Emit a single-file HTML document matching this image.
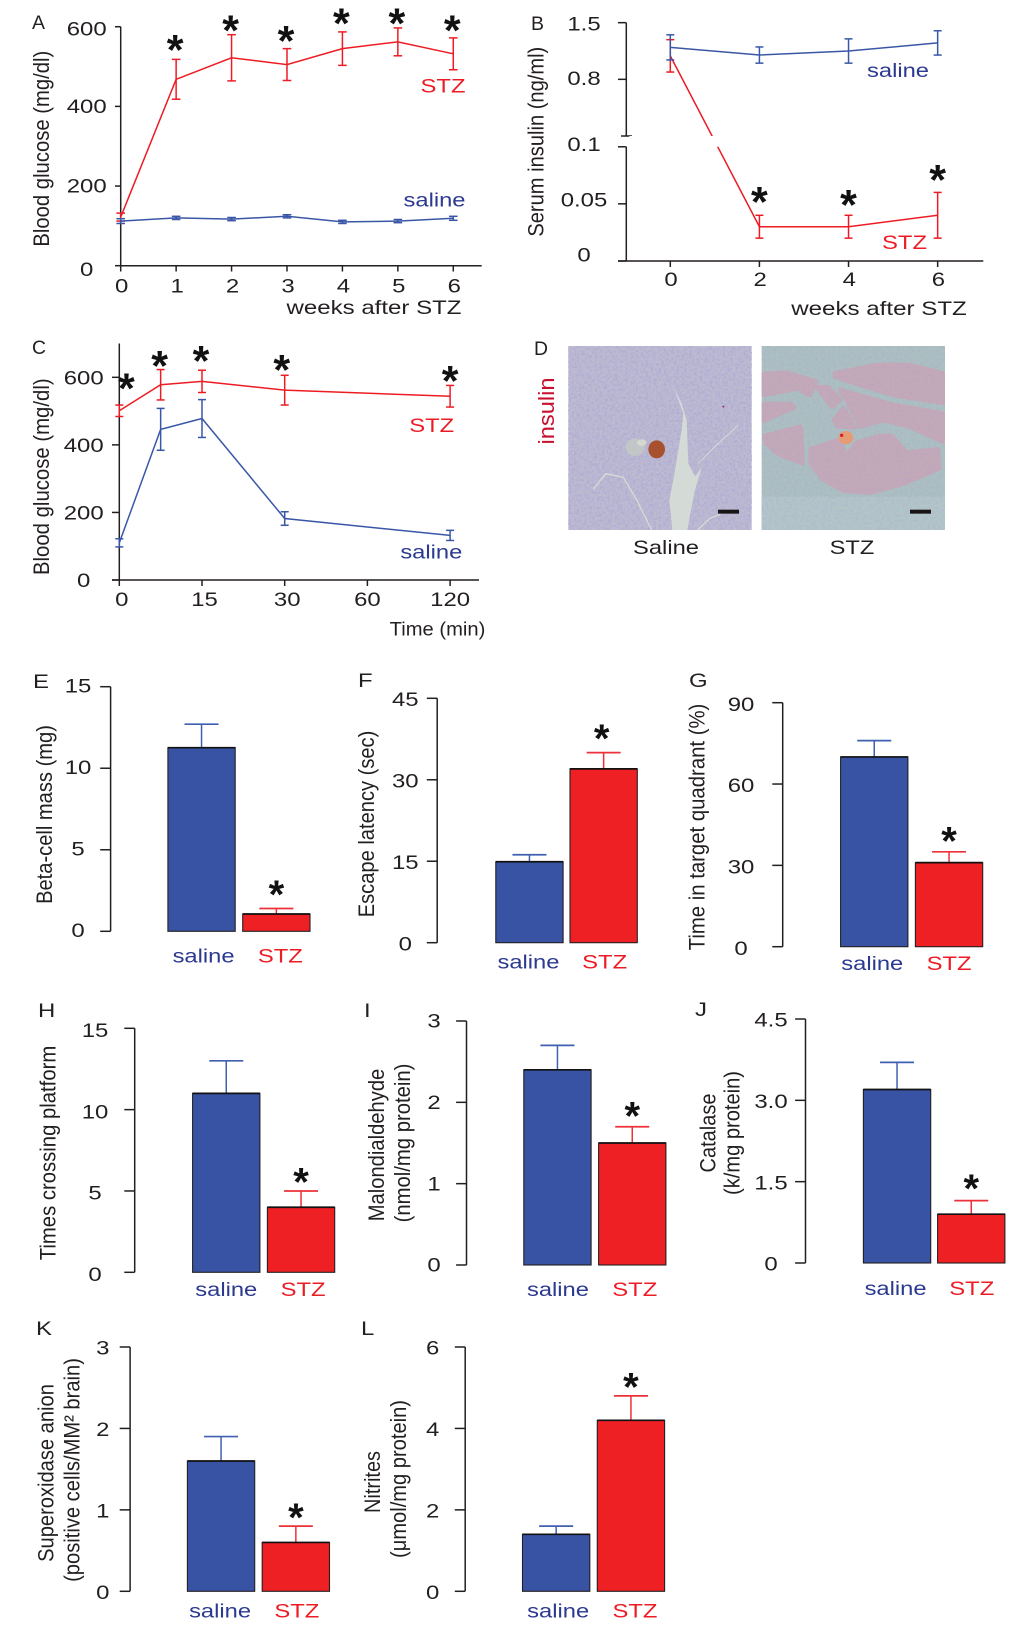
<!DOCTYPE html>
<html><head><meta charset="utf-8"><title>Figure</title>
<style>html,body{margin:0;padding:0;background:#fff}svg{display:block}text{font-family:"Liberation Sans",sans-serif}</style>
</head><body>
<svg id="fig" xmlns="http://www.w3.org/2000/svg" width="1020" height="1646" viewBox="0 0 1020 1646">
<defs>
<filter id="grain" x="0" y="0" width="100%" height="100%"><feTurbulence type="fractalNoise" baseFrequency="0.13" numOctaves="2" seed="4"/><feColorMatrix values="0 0 0 0 0.40  0 0 0 0 0.36  0 0 0 0 0.66  2.6 0 0 0 -1.0"/></filter>
</defs>
<rect width="1020" height="1646" fill="#fff"/>
<g transform="translate(510,330) scale(0.33333)">
<g>
<rect x="175" y="48" width="550" height="552" fill="#bcbbd1"/>
<rect x="175" y="48" width="550" height="552" filter="url(#grain)" opacity=".6"/>
<polygon fill="#d4dbd6" points="470,130 515,220 530,270 535,400 555,440 575,412 555,480 545,530 532,600 487,600 478,510 490,450 515,300 520,250 490,170"/>
<polyline fill="none" stroke="#d4dbd6" stroke-width="4" points="250,478 287,431 340,442 380,510 425,600"/>
<polyline fill="none" stroke="#d4dbd6" stroke-width="3" points="565,400 620,345 685,285"/>
<polyline fill="none" stroke="#d4dbd6" stroke-width="4" points="562,600 600,565 640,548"/>
<ellipse cx="375" cy="352" rx="28" ry="26" fill="#c3c6c6"/>
<ellipse cx="395" cy="338" rx="14" ry="10" fill="#d6d7ce"/>
<ellipse cx="440" cy="358" rx="25" ry="27" fill="#a8512f"/>
<circle cx="640" cy="230" r="3" fill="#a03060"/>
<rect x="624" y="539" width="63" height="12" fill="#1a1515"/>
</g>
<g>
<rect x="755" y="48" width="550" height="552" fill="#abc0c0"/>
<rect x="755" y="500" width="550" height="100" fill="#b2c6c8"/>
<g fill="#c4a9b6" stroke="#c4a9b6" stroke-width="14" stroke-linejoin="round">
<polygon points="975,130 1100,105 1200,105 1298,130 1298,218 1150,195 1020,155 975,140"/>
<polygon points="990,180 1150,225 1298,250 1298,335 1200,290 1120,270 1050,290 1010,210"/>
<polygon points="762,132 830,128 918,155 900,195 860,175 762,195"/>
<polygon points="922,172 955,172 990,210 965,230"/>
<polygon points="762,222 842,222 852,232 762,272"/>
<polygon points="1000,235 1022,270 1032,292 982,288 972,270"/>
<polygon points="764,318 872,290 878,400 805,372 768,340"/>
<polygon points="902,358 985,330 1010,378 1040,338 1110,318 1145,318 1190,368 1283,358 1288,415 1200,452 1175,462 1080,488 1000,482 935,445 902,398"/>
</g>
<rect x="755" y="48" width="550" height="552" filter="url(#grain)" opacity=".3"/>
<ellipse cx="1008" cy="323" rx="22" ry="20" fill="#e59b74"/>
<circle cx="995" cy="316" r="5" fill="#d81e2a"/>
<rect x="1200" y="539" width="63" height="12" fill="#1a1515"/>
</g>
</g>
</svg>
<script>
// ---- Panel A data
const aWeeks = [0, 1, 2, 3, 4, 5, 6];
const aStz = [122, 468, 522, 505, 545, 562, 532];
const aStzErr = [10, 50, 58, 40, 42, 35, 40];
const aSaline = [112, 120, 117, 124, 110, 112, 119];
const aSalineErr = [6, 4, 4, 4, 4, 4, 5];
const aYTicks = [0, 200, 400, 600];
// ---- Panel B data
const bWeeks = [0, 2, 4, 6];
const bSaline = [1.195, 1.10, 1.15, 1.25];
const bSalineErr = [0.155, 0.10, 0.15, 0.15];
const bStz = [1.09, 0.03, 0.03, 0.04];
const bStzErr = [0.20, 0.01, 0.01, 0.02];
const bYTicks = [0, 0.05, 0.1, 0.8, 1.5];
const bYTickLabels = ['0', '0.05', '0.1', '0.8', '1.5'];
// ---- Panel C data
const cMinutes = [0, 7.5, 15, 30, 120];
const cXTicks = [0, 15, 30, 60, 120];
const cStz = [501, 578, 588, 562, 544];
const cStzErr = [17, 45, 33, 44, 32];
const cSaline = [110, 446, 478, 182, 132];
const cSalineErr = [12, 62, 56, 20, 15];
const cYTicks = [0, 200, 400, 600];
// ---- Bar panel data
const barCategories = ['saline', 'STZ'];
const eMeans = [11.26, 1.06]; const eErrs = [1.44, 0.34]; const eTicks = [0, 5, 10, 15];
const fMeans = [14.9, 32]; const fErrs = [1.3, 3]; const fTicks = [0, 15, 30, 45];
const gMeans = [70, 31]; const gErrs = [6, 4]; const gTicks = [0, 30, 60, 90];
const hMeans = [11, 4]; const hErrs = [2, 1]; const hTicks = [0, 5, 10, 15];
const iMeans = [2.4, 1.5]; const iErrs = [0.3, 0.2]; const iTicks = [0, 1, 2, 3];
const jMeans = [3.2, 0.9]; const jErrs = [0.5, 0.25]; const jTicks = [0, 1.5, 3.0, 4.5];
const jTickLabels = ['0', '1.5', '3.0', '4.5'];
const kMeans = [1.6, 0.6]; const kErrs = [0.3, 0.2]; const kTicks = [0, 1, 2, 3];
const lMeans = [1.4, 4.2]; const lErrs = [0.2, 0.6]; const lTicks = [0, 2, 4, 6];

const NS = 'http://www.w3.org/2000/svg';
const fig = document.getElementById('fig');
const INK = '#231f20', RED = '#ed1c24', NAVY = '#2b3990', BLUE = '#3a57a7';

function mk(tag, name, attrs) {
  const el = document.createElementNS(NS, tag);
  
  
  for (const k in attrs) el.setAttribute(k, attrs[k]);
  fig.appendChild(el);
  return el;
}
function ln(name, x1, y1, x2, y2, color, w) {
  return mk('line', name, {x1, y1, x2, y2, stroke: color || INK, 'stroke-width': w || 1.5});
}
// horizontal text; target width optional, otherwise 1.26 stretch
function tx(name, str, x, y, color, anchor, width, size) {
  const el = mk('text', name, {'font-size': size || 19, fill: color || INK, 'text-anchor': anchor || 'middle'});
  el.textContent = str;
  const k = width ? width / el.getComputedTextLength() : 1.26;
  el.setAttribute('transform', 'translate(' + x + ',' + y + ') scale(' + k + ',1)');
  return el;
}
// rotated title with baseline at x, centre at y, target length
function rt(name, str, x, y, len, color, size) {
  const el = mk('text', name, {'font-size': size || 18, fill: color || INK, 'text-anchor': 'middle'});
  el.textContent = str;
  const k = len / el.getComputedTextLength();
  el.setAttribute('transform', 'translate(' + x + ',' + y + ') rotate(-90) scale(' + k + ',1.22)');
  return el;
}
function star(name, cx, cy, size) {
  const s = size || 43;
  const el = mk('text', name, {'font-size': s, 'font-weight': 'bold', fill: '#111', 'text-anchor': 'middle'});
  el.textContent = '*';
  el.setAttribute('transform', 'translate(' + cx + ',' + (cy + s * 0.49) + ')');
  return el;
}
function series(prefix, xs, ys, errs, xf, yf, color, capHalf) {
  const pts = xs.map((x, i) => xf(x).toFixed(2) + ',' + yf(ys[i]).toFixed(2)).join(' ');
  mk('polyline', prefix + '-line', {points: pts, fill: 'none', stroke: color, 'stroke-width': 1.5});
  xs.forEach((x, i) => {
    const px = xf(x), hi = yf(ys[i] + errs[i]), lo = yf(ys[i] - errs[i]);
    ln(prefix + '-error-bar', px, hi, px, lo, color, 1.5);
    ln(prefix + '-error-cap-top', px - capHalf, hi, px + capHalf, hi, color, 1.5);
    ln(prefix + '-error-cap-bottom', px - capHalf, lo, px + capHalf, lo, color, 1.5);
  });
}

// ---------- Panel A
(function () {
  const x = w => 120.7 + w * 55.43, y = v => 265.7 - v * 0.3983;
  tx('panel-a-letter', 'A', 32, 29, INK, 'start', 13);
  ln('panel-a-y-axis', x(0), y(600), x(0), y(0));
  ln('panel-a-x-axis', x(0), y(0), 481.7, y(0));
  const yNudge = {0: 3.7, 200: 0, 400: 0, 600: 2};
  aYTicks.forEach(v => {
    ln('panel-a-y-tick', 115, y(v), x(0), y(v));
    tx('panel-a-y-tick-label', String(v), 86.7, y(v) + 6.7 + yNudge[v], INK, 'middle');
  });
  aWeeks.forEach(w => {
    ln('panel-a-x-tick', x(w), y(0), x(w), 271.5);
    tx('panel-a-x-tick-label', String(w), x(w) + 1, 292.7, INK, 'middle');
  });
  series('panel-a-stz', aWeeks, aStz, aStzErr, x, y, RED, 4.3);
  series('panel-a-saline', aWeeks, aSaline, aSalineErr, x, y, BLUE, 4.3);
  const gaps = [0, 16, 11, 14, 15, 11, 14];
  aWeeks.slice(1).forEach((w, i) => star('panel-a-significance-star', x(w) - 1, y(aStz[i + 1] + aStzErr[i + 1]) - gaps[i + 1]));
  rt('panel-a-y-title', 'Blood glucose (mg/dl)', 49, 148.7, 196);
  tx('panel-a-x-title', 'weeks after STZ', 374, 314, INK, 'middle', 175);
  tx('panel-a-stz-label', 'STZ', 443, 92.7, RED, 'middle', 45);
  tx('panel-a-saline-label', 'saline', 434.5, 206.7, NAVY, 'middle', 62);
})();

// ---------- Panel B (broken axis)
(function () {
  const x = w => 670.3 + w * 44.56;
  const y = v => v >= 0.1 ? 22.67 + (1.5 - v) * 80.95 : 261 - v * 1143.3;
  const axX = 626.3, upperBreak = 136, lowerBreak = y(0.0999);
  tx('panel-b-letter', 'B', 531, 30, INK, 'start', 13);
  ln('panel-b-y-axis-upper', axX, y(1.5), axX, upperBreak);
  ln('panel-b-y-axis-lower', axX, lowerBreak, axX, y(0));
  ln('panel-b-x-axis', 618, y(0), 983.3, y(0));
  const nudges = [-6, -4, -2.7, -1, 1.3];
  bYTicks.forEach((v, i) => {
    const py = v === 0.1 ? lowerBreak : y(v);
    ln('panel-b-y-tick', 618, py, axX, py);
    tx('panel-b-y-tick-label', bYTickLabels[i], 584, py + 6.7 + nudges[i], INK, 'middle');
  });
  ln('panel-b-y-break-tick', 621, upperBreak, 632, upperBreak);
  bWeeks.forEach(w => {
    ln('panel-b-x-tick', x(w), y(0), x(w), 267);
    tx('panel-b-x-tick-label', String(w), x(w) + 0.7, 286, INK, 'middle');
  });
  series('panel-b-stz', bWeeks, bStz, bStzErr, x, y, RED, 4);
  mk('rect', 'panel-b-line-break', {x: axX + 3, y: upperBreak, width: 330, height: lowerBreak - upperBreak, fill: '#fff'});
  series('panel-b-saline', bWeeks, bSaline, bSalineErr, x, y, BLUE, 4);
  const gaps = [0, 20, 17, 19];
  bWeeks.slice(1).forEach((w, i) => star('panel-b-significance-star', x(w), y(bStz[i + 1] + bStzErr[i + 1]) - gaps[i + 1]));
  rt('panel-b-y-title', 'Serum insulin (ng/ml)', 543.3, 141.7, 190);
  tx('panel-b-x-title', 'weeks after STZ', 879, 315, INK, 'middle', 175.7);
  tx('panel-b-stz-label', 'STZ', 904.5, 249, RED, 'middle', 45);
  tx('panel-b-saline-label', 'saline', 898, 77, NAVY, 'middle', 62);
})();

// ---------- Panel C
(function () {
  const x = m => 119.3 + 82.7 * (m <= 15 ? m / 15 : 1 + Math.log2(m / 15));
  const y = v => 580 - v * 0.3378;
  tx('panel-c-letter', 'C', 32, 354, INK, 'start', 14);
  ln('panel-c-y-axis', x(0), y(700), x(0), y(0));
  ln('panel-c-x-axis', 112, y(0), 479, y(0));
  cYTicks.forEach(v => {
    ln('panel-c-y-tick', 112, y(v), x(0), y(v));
    tx('panel-c-y-tick-label', String(v), 83.7, y(v) + 7, INK, 'middle');
  });
  cXTicks.forEach(m => {
    ln('panel-c-x-tick', x(m), y(0), x(m), 586);
    tx('panel-c-x-tick-label', String(m), x(m) + (m < 60 ? 2.5 : 0), 606, INK, 'middle');
  });
  series('panel-c-stz', cMinutes, cStz, cStzErr, x, y, RED, 4);
  series('panel-c-saline', cMinutes, cSaline, cSalineErr, x, y, BLUE, 4);
  const gaps = [23, 10, 16, 12, 11], shifts = [7, -1, -1, -3, 0];
  cMinutes.forEach((m, i) => star('panel-c-significance-star', x(m) + shifts[i], y(cStz[i] + cStzErr[i]) - gaps[i]));
  rt('panel-c-y-title', 'Blood glucose (mg/dl)', 49, 476.7, 196.7);
  tx('panel-c-x-title', 'Time (min)', 437.5, 635.7, INK, 'middle', 95.7);
  tx('panel-c-stz-label', 'STZ', 431.7, 432, RED, 'middle', 45);
  tx('panel-c-saline-label', 'saline', 431.3, 558.7, NAVY, 'middle', 62);
})();

// ---------- Panel D labels
tx('panel-d-letter', 'D', 534, 355, INK, 'start', 14);
rt('panel-d-insulin-label', 'insulin', 554, 411, 67, '#c8102e');
tx('panel-d-saline-caption', 'Saline', 666, 554, INK, 'middle', 66);
tx('panel-d-stz-caption', 'STZ', 852, 554, INK, 'middle', 44.7);

// ---------- Bar panels
function barPanel(p, means, errs, ticks, labels) {
  const n = 'panel-' + p.id;
  const y = v => p.y0 - v * (p.y0 - p.yTop) / ticks[ticks.length - 1];
  tx(n + '-letter', p.id.toUpperCase(), p.letterX, p.letterY, INK, 'start');
  ln(n + '-y-axis', p.axis, y(ticks[ticks.length - 1]), p.axis, y(0));
  ticks.forEach((v, i) => {
    ln(n + '-y-tick', p.axis - 10.4, y(v), p.axis, y(v));
    tx(n + '-y-tick-label', labels ? labels[i] : String(v), p.labelX, y(v) + 6.7 + p.nudge, INK, 'middle');
  });
  const colors = [{f: '#3953a4', e: '#3f5fb0', t: NAVY}, {f: '#ee2024', e: '#ee3039', t: RED}];
  const lefts = [p.bar0, p.bar1], w = 67.3;
  means.forEach((m, i) => {
    const c = colors[i], cx = lefts[i] + w / 2, top = y(m), et = y(m + errs[i]);
    ln(n + '-error-bar-' + barCategories[i].toLowerCase(), cx, top, cx, et, c.e, 1.5);
    ln(n + '-error-cap-' + barCategories[i].toLowerCase(), cx - 17, et, cx + 17, et, c.e, 1.7);
    mk('rect', n + '-bar-' + barCategories[i].toLowerCase(), {x: lefts[i], y: top, width: w, height: y(0) - top, fill: c.f, stroke: INK, 'stroke-width': 1.1});
    ln(n + '-bar-top-edge-' + barCategories[i].toLowerCase(), lefts[i], top, lefts[i] + w, top, '#111', 1.7);
    tx(n + '-category-label-' + barCategories[i].toLowerCase(), barCategories[i], cx + (i ? 4 : 2) + p.catShift, p.catY, c.t, 'middle', i ? 45 : 62);
  });
  const sig = p.starOn;
  star(n + '-significance-star', lefts[sig] + w / 2 + p.starShift, y(means[sig] + errs[sig]) - p.starGap, 40);
}
barPanel({id:'e',letterX:33,letterY:688,axis:110.6,y0:931.3,yTop:686.7,labelX:78,nudge:-1,bar0:167.9,bar1:242.7,catY:962.7,catShift:0,starOn:1,starGap:20,starShift:0},eMeans,eErrs,eTicks);
barPanel({id:'f',letterX:358,letterY:687,axis:437.2,y0:942.7,yTop:698.3,labelX:405.3,nudge:1,bar0:495.8,bar1:570,catY:968.7,catShift:-3,starOn:1,starGap:20,starShift:-2},fMeans,fErrs,fTicks);
barPanel({id:'g',letterX:689,letterY:687,axis:782.7,y0:946.7,yTop:702.7,labelX:741,nudge:1.5,bar0:840.6,bar1:915.4,catY:970,catShift:-4,starOn:1,starGap:17,starShift:0},gMeans,gErrs,gTicks);
barPanel({id:'h',letterX:38,letterY:1017,axis:134.7,y0:1272.3,yTop:1028.3,labelX:95,nudge:2,bar0:192.6,bar1:267.4,catY:1296,catShift:-2,starOn:1,starGap:15,starShift:0},hMeans,hErrs,hTicks);
barPanel({id:'i',letterX:364,letterY:1017,axis:466.5,y0:1265,yTop:1021,labelX:434,nudge:0,bar0:523.8,bar1:598.6,catY:1296,catShift:-1.5,starOn:1,starGap:17,starShift:0},iMeans,iErrs,iTicks);
barPanel({id:'j',letterX:695,letterY:1016,axis:805.5,y0:1263,yTop:1019,labelX:771,nudge:1,bar0:863.4,bar1:937.6,catY:1295,catShift:-3.5,starOn:1,starGap:18,starShift:0},jMeans,jErrs,jTicks,jTickLabels);
barPanel({id:'k',letterX:36,letterY:1335,axis:130.1,y0:1591.3,yTop:1347,labelX:102.8,nudge:1,bar0:187.4,bar1:262.2,catY:1617.7,catShift:-3,starOn:1,starGap:15,starShift:0},kMeans,kErrs,kTicks);
barPanel({id:'l',letterX:361,letterY:1335,axis:465.2,y0:1591.3,yTop:1347,labelX:432.7,nudge:1,bar0:522.5,bar1:597.3,catY:1617.7,catShift:0,starOn:1,starGap:15,starShift:0},lMeans,lErrs,lTicks);

rt('panel-e-y-title', 'Beta-cell mass (mg)', 52, 814.5, 179);
rt('panel-f-y-title', 'Escape latency (sec)', 374, 824, 186.7);
rt('panel-g-y-title', 'Time in target quadrant (%)', 704.5, 827, 246.7);
rt('panel-h-y-title', 'Times crossing platform', 55.3, 1153, 214.7);
rt('panel-i-y-title-line-1', 'Malondialdehyde', 384, 1145, 152.7);
rt('panel-i-y-title-line-2', '(nmol/mg protein)', 410, 1143, 159);
rt('panel-j-y-title-line-1', 'Catalase', 715.5, 1133, 79);
rt('panel-j-y-title-line-2', '(k/mg protein)', 739.5, 1133, 124);
rt('panel-k-y-title-line-1', 'Superoxidase anion', 53.3, 1473, 178);
rt('panel-k-y-title-line-2', '(positive cells/MM\u00B2 brain)', 79.4, 1470, 224);
rt('panel-l-y-title-line-1', 'Nitrites', 380, 1482, 62);
rt('panel-l-y-title-line-2', '(\u03BCmol/mg protein)', 406, 1479, 158);
</script>
</body></html>
